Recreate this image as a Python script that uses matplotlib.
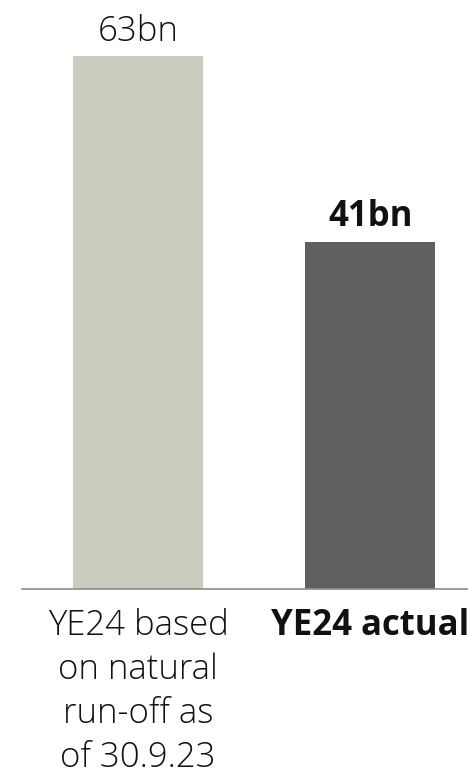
import matplotlib.pyplot as plt

categories = ["YE24 based\non natural\nrun-off as\nof 30.9.23", "YE24 actual"]
values = [63, 41]
value_labels = ["63bn", "41bn"]
colors = ["#cccbbf", "#5f605f"]

plt.rcParams['font.family'] = ['Open Sans', 'DejaVu Sans']

fig = plt.figure(figsize=(4.68, 7.8), dpi=100)
ax = fig.add_axes([0.047, 0.245, 0.953, 0.755])

x = range(len(values))
bars = ax.bar(x, values, width=0.56, color=colors)

ax.set_xlim(-0.5, 1.42)
ax.set_ylim(0, 69.6)

# value labels above the bars, the actual one in bold
for i, (b, lab) in enumerate(zip(bars, value_labels)):
    ax.annotate(lab, (b.get_x() + b.get_width() / 2, b.get_height()),
                xytext=(0, 10.5 if i == 0 else 11.5), textcoords="offset points",
                ha="center", va="baseline", fontsize=25,
                fontweight="light" if i == 0 else "bold", color="#111111")

ax.set_xticks(list(x))
ax.set_xticklabels(categories, fontsize=25, linespacing=1.36, va="top",
                   color="#111111", fontweight="light")
ax.get_xticklabels()[1].set_fontweight("bold")
ax.tick_params(axis="x", length=0, pad=14)
ax.set_yticks([])

for s in ["top", "right", "left"]:
    ax.spines[s].set_visible(False)
ax.spines["bottom"].set_color("#8c8c8c")
ax.spines["bottom"].set_linewidth(1.2)

fig.savefig("out.png", dpi=100)
